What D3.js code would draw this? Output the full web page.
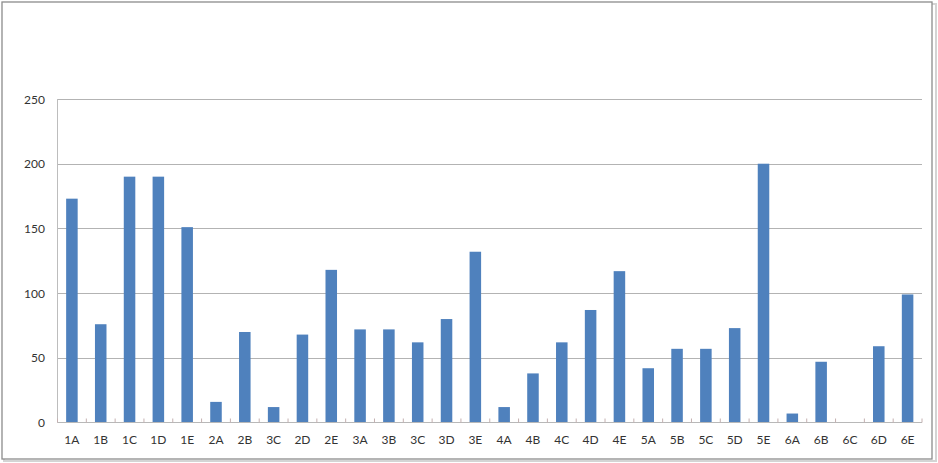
<!DOCTYPE html>
<html>
<head>
<meta charset="utf-8">
<script src="https://cdn.jsdelivr.net/npm/d3@7"></script>
<style>
  html, body { margin: 0; padding: 0; background: #ffffff; }
  svg { display: block; }
</style>
</head>
<body>
<svg id="chart" width="938" height="463"></svg>
<script>
// Data
const categories = ["1A","1B","1C","1D","1E","2A","2B","3C","2D","2E",
                    "3A","3B","3C","3D","3E","4A","4B","4C","4D","4E",
                    "5A","5B","5C","5D","5E","6A","6B","6C","6D","6E"];
const values = [173, 76, 190, 190, 151, 16, 70, 12, 68, 118,
                72, 72, 62, 80, 132, 12, 38, 62, 87, 117,
                42, 57, 57, 73, 200, 7, 47, 0, 59, 99];
const yTicks = [0, 50, 100, 150, 200, 250];

(function () {
const svg = d3.select("#chart");
const font = "Lato, 'Open Sans', sans-serif";

// outer frame with shadow
svg.append("rect").attr("x", 4).attr("y", 4).attr("width", 932).attr("height", 457)
  .attr("fill", "none").attr("stroke", "#d4d4d4").attr("stroke-width", 2);
svg.append("rect").attr("x", 2).attr("y", 2).attr("width", 930).attr("height", 457)
  .attr("fill", "#ffffff").attr("stroke", "#8c8c8c").attr("stroke-width", 1.3);

const pLeft = 57.5, pRight = 922, pTop = 99, pBottom = 422.6;

const x = d3.scaleBand()
  .domain(d3.range(categories.length))
  .range([pLeft, pRight])
  .paddingInner(0.6)
  .paddingOuter(0.3);

const y = d3.scaleLinear().domain([0, 250]).range([pBottom, pTop]);

// gridlines
svg.append("g")
  .selectAll("line")
  .data(yTicks.filter(d => d > 0))
  .join("line")
  .attr("x1", pLeft).attr("x2", pRight)
  .attr("y1", d => Math.round(y(d)) + 0.5).attr("y2", d => Math.round(y(d)) + 0.5)
  .attr("stroke", "#b3b3b3").attr("stroke-width", 1);

// y axis labels
svg.append("g")
  .selectAll("text")
  .data(yTicks)
  .join("text")
  .attr("x", 45).attr("y", d => y(d) + 4.5)
  .attr("text-anchor", "end")
  .attr("font-family", font).attr("font-size", 12)
  .attr("fill", "#333333")
  .text(d => d);

// vertical axis line
svg.append("line")
  .attr("x1", pLeft).attr("x2", pLeft).attr("y1", pTop).attr("y2", pBottom)
  .attr("stroke", "#bdbdbd").attr("stroke-width", 1);

// bars
svg.append("g")
  .selectAll("rect")
  .data(values)
  .join("rect")
  .attr("x", (d, i) => x(i))
  .attr("y", d => y(d))
  .attr("width", x.bandwidth())
  .attr("height", d => pBottom - y(d))
  .attr("fill", "#4f81bd");

// x axis line
svg.append("line")
  .attr("x1", pLeft).attr("x2", pRight).attr("y1", 422.5).attr("y2", 422.5)
  .attr("stroke", "#b8b8b8").attr("stroke-width", 1);

// x axis ticks (category boundaries)
const boundaries = d3.range(categories.length + 1).map(i => pLeft + i * (pRight - pLeft) / categories.length);
svg.append("g")
  .selectAll("line")
  .data(boundaries)
  .join("line")
  .attr("x1", d => d).attr("x2", d => d)
  .attr("y1", 418.5).attr("y2", 422.5)
  .attr("stroke", "#c4b0b0").attr("stroke-width", 1);

// x labels
svg.append("g")
  .selectAll("text")
  .data(categories)
  .join("text")
  .attr("x", (d, i) => x(i) + x.bandwidth() / 2)
  .attr("y", 444)
  .attr("text-anchor", "middle")
  .attr("font-family", font).attr("font-size", 12)
  .attr("fill", "#333333")
  .text(d => d);
})();
</script>
</body>
</html>
